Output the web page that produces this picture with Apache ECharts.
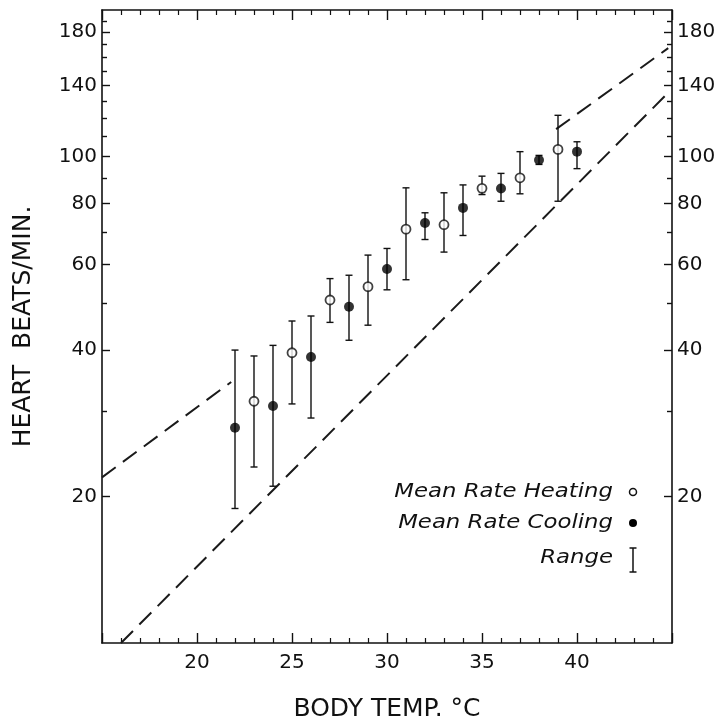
<!DOCTYPE html>
<html><head><meta charset="utf-8">
<script src="https://cdn.jsdelivr.net/npm/echarts@6/dist/echarts.min.js"></script>
<style>html,body{margin:0;padding:0;background:#fff}#c{width:720px;height:721px}</style>
</head><body><div id="c"></div>
<script>
// Heating (open circles)
const heatTemp = [23, 25, 27, 29, 31, 33, 35, 37, 39];
const heatMean = [31.4, 39.5, 50.7, 54.0, 70.9, 72.4, 86.0, 90.4, 103.4];
const heatLow  = [23.0, 31.0, 45.6, 45.0, 55.8, 63.6, 83.5, 83.8, 80.9];
const heatHigh = [38.9, 45.9, 56.1, 62.7, 86.2, 84.2, 91.1, 102.3, 121.5];
// Cooling (filled circles)
const coolTemp = [22, 24, 26, 28, 30, 32, 34, 36, 38, 40];
const coolMean = [27.7, 30.7, 38.7, 49.1, 58.7, 73.0, 78.4, 85.9, 98.3, 102.3];
const coolLow  = [18.9, 21.0, 29.0, 41.9, 53.2, 67.5, 68.8, 80.9, 96.3, 94.4];
const coolHigh = [40.0, 40.9, 47.0, 57.0, 64.7, 76.6, 87.4, 92.3, 100.5, 107.2];
// Dashed reference lines (end points)
const upperLineA = [[15, 21.9], [21.8, 34.4]];
const upperLineB = [[38.9, 113.8], [44.8, 167]];
const lowerLine  = [[16.0, 10], [44.7, 134]];
// Axis ticks
const yTickLabels = [20, 40, 60, 80, 100, 140, 180];
const yMinorTicks = [30, 50, 70, 90, 110, 120, 130, 150, 160, 170, 190];
const xMin = 15, xMax = 45, xInterval = 5;
const yMin = 10, yMax = 200;

const FONT = 'DejaVu Sans';
const INK = '#111';

const heatPts = heatTemp.map((t, i) => [t, heatMean[i]]);
const coolPts = coolTemp.map((t, i) => [t, coolMean[i]]);
const errData = heatTemp.map((t, i) => [t, heatLow[i], heatHigh[i]])
  .concat(coolTemp.map((t, i) => [t, coolLow[i], coolHigh[i]]));

const chart = echarts.init(document.getElementById('c'), null, {renderer: 'canvas'});

function xAxisDef(pos, withLabels) {
  return {
    type: 'value', position: pos, min: xMin, max: xMax, interval: xInterval,
    name: withLabels ? 'BODY TEMP. °C' : '',
    nameLocation: 'middle', nameGap: 54,
    nameTextStyle: {fontFamily: FONT, fontSize: 25, color: INK},
    axisLine: {show: true, onZero: false, lineStyle: {color: INK, width: 1.6}},
    axisTick: {show: true, inside: true, length: 10, lineStyle: {color: INK, width: 1.4}},
    minorTick: {show: true, splitNumber: 5, length: 5, lineStyle: {color: INK, width: 1.2}},
    splitLine: {show: false}, minorSplitLine: {show: false},
    axisLabel: {show: withLabels, showMinLabel: false, showMaxLabel: false, margin: 10,
      fontFamily: FONT, fontSize: 20, color: INK}
  };
}
function yAxisDef(pos, major, withName) {
  return {
    type: 'log', logBase: 10, position: pos, min: yMin, max: yMax,
    name: withName ? 'HEART  BEATS/MIN.' : '',
    nameLocation: 'middle', nameGap: 66,
    nameTextStyle: {fontFamily: FONT, fontSize: 25, color: INK},
    axisLine: {show: major, onZero: false, lineStyle: {color: INK, width: 1.6}},
    axisTick: {show: true, inside: true, length: major ? 8 : 5,
      customValues: major ? yTickLabels : yMinorTicks,
      lineStyle: {color: INK, width: 1.4}},
    axisLabel: {show: major, customValues: yTickLabels, margin: 5,
      fontFamily: FONT, fontSize: 20, color: INK},
    splitLine: {show: false}
  };
}

const dashStyle = {color: '#1a1a1a', width: 2, type: [17, 9]};

chart.setOption({
  animation: false,
  backgroundColor: '#fff',
  grid: {left: 102, right: 48, top: 10, bottom: 78, outerBoundsMode: 'none', containLabel: false},
  xAxis: [xAxisDef('bottom', true), xAxisDef('top', false)],
  yAxis: [yAxisDef('left', true, true), yAxisDef('left', false, false),
          yAxisDef('right', true, false), yAxisDef('right', false, false)],
  series: [
    {type: 'line', data: lowerLine, showSymbol: false, lineStyle: dashStyle, z: 1, silent: true},
    {type: 'line', data: upperLineA, showSymbol: false, lineStyle: dashStyle, z: 1, silent: true},
    {type: 'line', data: upperLineB, showSymbol: false, lineStyle: dashStyle, z: 1, silent: true},
    {
      type: 'custom', name: 'Range', data: errData, z: 2,
      encode: {x: 0, y: [1, 2]},
      renderItem: function (params, api) {
        const x = api.value(0);
        const lo = api.coord([x, api.value(1)]);
        const hi = api.coord([x, api.value(2)]);
        const w = 3.5;
        const st = {stroke: INK, lineWidth: 1.4};
        return {type: 'group', children: [
          {type: 'line', shape: {x1: lo[0], y1: lo[1], x2: hi[0], y2: hi[1]}, style: st},
          {type: 'line', shape: {x1: lo[0] - w, y1: lo[1], x2: lo[0] + w, y2: lo[1]}, style: st},
          {type: 'line', shape: {x1: hi[0] - w, y1: hi[1], x2: hi[0] + w, y2: hi[1]}, style: st}
        ]};
      }
    },
    {type: 'scatter', name: 'Mean Rate Heating', data: heatPts, symbol: 'circle', symbolSize: 9, z: 3,
      itemStyle: {color: '#fff', borderColor: INK, borderWidth: 1.8}},
    {type: 'scatter', name: 'Mean Rate Cooling', data: coolPts, symbol: 'circle', symbolSize: 10, z: 3,
      itemStyle: {color: '#000'}}
  ],
  graphic: [
    {type: 'text', x: 613, y: 492, scaleX: 1.2, style: {text: 'Mean Rate Heating', x: 0, y: 0,
      textAlign: 'right', textVerticalAlign: 'middle', font: 'italic 19px "DejaVu Sans"', fill: INK}},
    {type: 'circle', shape: {cx: 633, cy: 492, r: 3.5}, style: {fill: '#fff', stroke: INK, lineWidth: 1.5}},
    {type: 'text', x: 613, y: 523, scaleX: 1.2, style: {text: 'Mean Rate Cooling', x: 0, y: 0,
      textAlign: 'right', textVerticalAlign: 'middle', font: 'italic 19px "DejaVu Sans"', fill: INK}},
    {type: 'circle', shape: {cx: 633, cy: 523, r: 4}, style: {fill: '#000'}},
    {type: 'text', x: 613, y: 558, scaleX: 1.2, style: {text: 'Range', x: 0, y: 0,
      textAlign: 'right', textVerticalAlign: 'middle', font: 'italic 19px "DejaVu Sans"', fill: INK}},
    {type: 'line', shape: {x1: 633, y1: 548, x2: 633, y2: 572}, style: {stroke: INK, lineWidth: 1.5}},
    {type: 'line', shape: {x1: 629.5, y1: 548, x2: 636.5, y2: 548}, style: {stroke: INK, lineWidth: 1.5}},
    {type: 'line', shape: {x1: 629.5, y1: 572, x2: 636.5, y2: 572}, style: {stroke: INK, lineWidth: 1.5}}
  ]
});
</script>
</body></html>
